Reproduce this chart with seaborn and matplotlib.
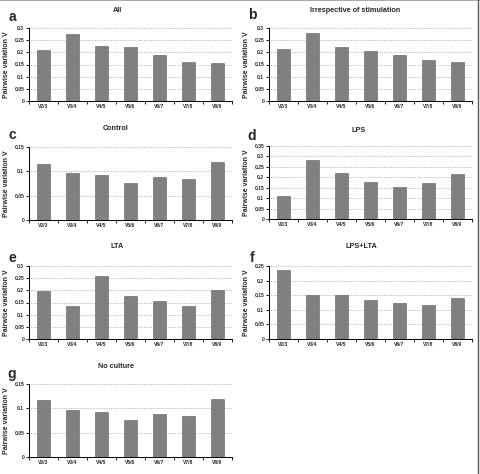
import matplotlib
matplotlib.use("Agg")
import matplotlib.pyplot as plt
import numpy as np
import pandas as pd
import seaborn as sns
from matplotlib.lines import Line2D
from matplotlib.ticker import MultipleLocator, FixedLocator

pairs = ["V2/3", "V3/4", "V4/5", "V5/6", "V6/7", "V7/8", "V8/9"]

v_all = [0.210, 0.277, 0.228, 0.220, 0.191, 0.160, 0.158]
v_irrespective = [0.214, 0.281, 0.223, 0.206, 0.189, 0.167, 0.159]
v_control = [0.1145, 0.0975, 0.092, 0.077, 0.088, 0.0845, 0.1186]
v_lps = [0.110, 0.283, 0.220, 0.179, 0.155, 0.173, 0.215]
v_lta = [0.197, 0.136, 0.258, 0.177, 0.156, 0.137, 0.201]
v_lps_lta = [0.237, 0.150, 0.150, 0.132, 0.122, 0.118, 0.140]
v_no_culture = [0.117, 0.0975, 0.093, 0.076, 0.0886, 0.0845, 0.119]

# (letter, title, values, ymax, step, left px, top px, title x px, title y px, letter y px)
panels = [
    ("a", "All", v_all, 0.3, 0.05, 29, 28, 117, 10, 17),
    ("b", "Irrespective of stimulation", v_irrespective, 0.3, 0.05, 269, 28, 355, 10, 15),
    ("c", "Control", v_control, 0.15, 0.05, 29, 147, 116, 129, 135),
    ("d", "LPS", v_lps, 0.35, 0.05, 269, 146, 359, 130, 136),
    ("e", "LTA", v_lta, 0.3, 0.05, 29, 266, 117, 247, 258),
    ("f", "LPS+LTA", v_lps_lta, 0.25, 0.05, 269, 266, 361, 247, 258),
    ("g", "No culture", v_no_culture, 0.15, 0.05, 29, 384, 116, 366, 374),
]

sns.set_style("white")
plt.rcParams["font.family"] = ["Liberation Sans", "DejaVu Sans"]
plt.rcParams["font.weight"] = "bold"

W, H = 480, 474
fig = plt.figure(figsize=(W / 100, H / 100), dpi=100)

ax_w, ax_h = 203, 73
grid_c = "#8a8a8a"

for letter, title, vals, ymax, step, left, top, tx, ty, ly in panels:
    ax = fig.add_axes([left / W, 1 - (top + ax_h) / H, ax_w / W, ax_h / H])
    df = pd.DataFrame({"pair": pairs, "value": vals})
    sns.barplot(data=df, x="pair", y="value", ax=ax, color="#808080",
                saturation=1, width=0.45, edgecolor="#5c5c5c", linewidth=0.4)
    ax.set_xlim(-0.5, len(pairs) - 0.5)
    ax.set_ylim(0, ymax)
    ax.yaxis.set_major_locator(MultipleLocator(step))
    ax.yaxis.set_major_formatter(matplotlib.ticker.FuncFormatter(
        lambda v, p: "0" if abs(v) < 1e-9 else f"{v:g}"))
    ax.xaxis.set_minor_locator(FixedLocator(np.arange(-0.5, len(pairs), 1)))
    ax.tick_params(axis="x", which="major", length=0, labelsize=3.6, pad=2.5)
    ax.tick_params(axis="x", which="minor", length=2, width=0.6, color="black",
                   bottom=True)
    ax.tick_params(axis="y", which="major", length=2, width=0.6, labelsize=3.6,
                   pad=1.5, color="black", left=True)
    ax.yaxis.grid(True, linestyle=(0, (1, 1.5)), color=grid_c, linewidth=0.5)
    ax.set_axisbelow(True)
    for s in ["top", "right"]:
        ax.spines[s].set_visible(False)
    for s in ["left", "bottom"]:
        ax.spines[s].set_color("black")
        ax.spines[s].set_linewidth(0.7)
    ax.set_xlabel("")
    ax.set_ylabel("Pairwise variation V", fontsize=5, fontweight="bold", labelpad=3)
    fig.text(tx / W, 1 - ty / H, title, ha="center", va="center",
             fontsize=5.2, fontweight="bold")
    fig.text((left - 17) / W, 1 - ly / H, letter, ha="center", va="center",
             fontsize=10, fontweight="bold")

# frame lines of the figure panel
fig.add_artist(Line2D([0, 1], [0.999, 0.999], transform=fig.transFigure,
                      color="#999999", linewidth=1.2))
fig.add_artist(Line2D([477.5 / W, 477.5 / W], [0, 1], transform=fig.transFigure,
                      color="#555555", linewidth=1.0))

fig.savefig("out.png", dpi=100)
